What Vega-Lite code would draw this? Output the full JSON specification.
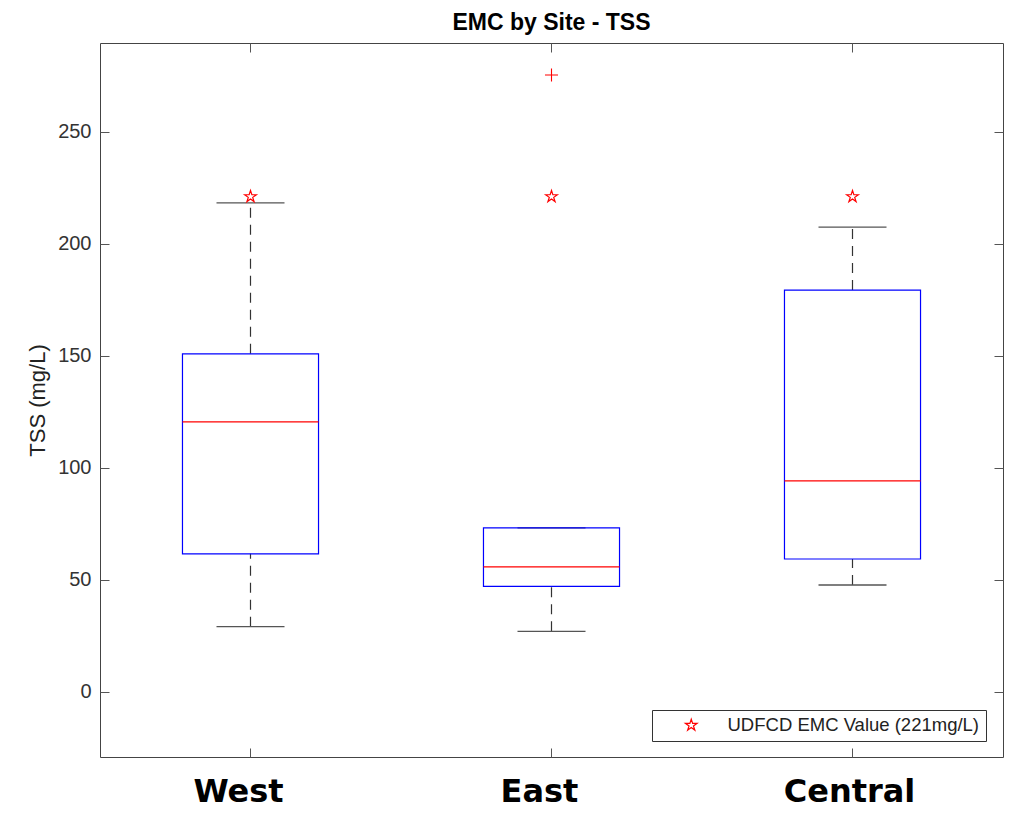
{
  "$schema": "https://vega.github.io/schema/vega-lite/v6.json",
  "width": 903,
  "height": 714,
  "autosize": "none",
  "padding": {"left": 100, "top": 43, "right": 6, "bottom": 62},
  "background": "white",
  "title": {"text": "EMC by Site - TSS", "font": "Liberation Sans", "fontSize": 23, "fontWeight": "bold", "color": "black", "offset": 8},
  "config": {
    "view": {"stroke": "#444", "strokeWidth": 1},
    "axis": {"domain": false, "grid": false, "tickColor": "#555", "tickWidth": 1, "labelFont": "Liberation Sans", "labelColor": "#333", "titleFont": "Liberation Sans", "titleFontWeight": "normal", "titleColor": "#222"}
  },
  "datasets": {
    "boxes": [
      {"site": "West", "min": 29.0, "q1": 61.5, "med": 120.4, "q3": 150.8, "max": 218.2},
      {"site": "East", "min": 26.9, "q1": 47.0, "med": 55.7, "q3": 73.1, "max": 73.1},
      {"site": "Central", "min": 47.6, "q1": 59.2, "med": 94.1, "q3": 179.3, "max": 207.4}
    ],
    "outliers": [
      {"site": "East", "value": 275.3}
    ],
    "ref": [
      {"site": "West", "value": 221, "series": "UDFCD EMC Value (221mg/L)"},
      {"site": "East", "value": 221, "series": "UDFCD EMC Value (221mg/L)"},
      {"site": "Central", "value": 221, "series": "UDFCD EMC Value (221mg/L)"}
    ]
  },
  "layer": [
    {
      "data": {"name": "boxes"},
      "mark": {"type": "rule", "color": "#333", "strokeWidth": 1.2, "strokeDash": [10, 7]},
      "encoding": {
        "x": {"field": "site", "type": "nominal", "sort": ["West", "East", "Central"],
              "scale": {"type": "band", "paddingInner": 0.548, "paddingOuter": 0.274},
              "axis": {"orient": "bottom", "title": null, "labelAngle": 0, "tickSize": -9, "labelPadding": 28,
                       "labelOffset": {"condition": {"test": "datum.value === 'Central'", "value": -3}, "value": -12},
                       "labelFont": "DejaVu Sans", "labelFontSize": 32, "labelFontWeight": "bold", "labelColor": "black"}},
        "y": {"field": "q3", "type": "quantitative",
              "scale": {"domain": [-29.2, 289.6], "nice": false, "zero": false},
              "axis": {"orient": "left", "title": "TSS (mg/L)", "values": [0, 50, 100, 150, 200, 250], "tickSize": -9,
                       "labelPadding": 18, "labelFontSize": 20, "titleFontSize": 22, "titlePadding": 8}},
        "y2": {"field": "max"}
      }
    },
    {
      "data": {"name": "boxes"},
      "mark": {"type": "rule", "color": "#333", "strokeWidth": 1.2, "strokeDash": [10, 7]},
      "encoding": {
        "x": {"field": "site", "type": "nominal", "sort": ["West", "East", "Central"],
              "axis": {"orient": "top", "title": null, "labels": false, "tickSize": -9}},
        "y": {"field": "min", "type": "quantitative",
              "axis": {"orient": "right", "title": null, "labels": false, "values": [0, 50, 100, 150, 200, 250], "tickSize": -9}},
        "y2": {"field": "q1"}
      }
    },
    {
      "data": {"name": "boxes"},
      "mark": {"type": "tick", "color": "#555", "thickness": 1.3, "size": 68, "opacity": 1},
      "encoding": {
        "x": {"field": "site", "type": "nominal", "sort": ["West", "East", "Central"], "axis": null},
        "y": {"field": "max", "type": "quantitative", "axis": null}
      }
    },
    {
      "data": {"name": "boxes"},
      "mark": {"type": "tick", "color": "#555", "thickness": 1.3, "size": 68, "opacity": 1},
      "encoding": {
        "x": {"field": "site", "type": "nominal", "sort": ["West", "East", "Central"], "axis": null},
        "y": {"field": "min", "type": "quantitative", "axis": null}
      }
    },
    {
      "data": {"name": "boxes"},
      "mark": {"type": "bar", "fill": null, "fillOpacity": 0, "stroke": "#0000ff", "strokeWidth": 1.2},
      "encoding": {
        "x": {"field": "site", "type": "nominal", "sort": ["West", "East", "Central"], "axis": null},
        "y": {"field": "q1", "type": "quantitative", "axis": null},
        "y2": {"field": "q3"}
      }
    },
    {
      "data": {"name": "boxes"},
      "mark": {"type": "tick", "color": "#ff0000", "thickness": 1.2, "size": 136, "opacity": 1},
      "encoding": {
        "x": {"field": "site", "type": "nominal", "sort": ["West", "East", "Central"], "axis": null},
        "y": {"field": "med", "type": "quantitative", "axis": null}
      }
    },
    {
      "data": {"name": "outliers"},
      "mark": {"type": "point", "shape": "M-1,0H1M0,-1V1", "filled": false, "stroke": "#ff0000", "strokeWidth": 1.1, "size": 170, "opacity": 1},
      "encoding": {
        "x": {"field": "site", "type": "nominal", "sort": ["West", "East", "Central"], "axis": null},
        "y": {"field": "value", "type": "quantitative", "axis": null}
      }
    },
    {
      "data": {"name": "ref"},
      "mark": {"type": "point", "shape": "M0,-1L0.223,-0.307L0.951,-0.309L0.361,0.117L0.588,0.809L0,0.38L-0.588,0.809L-0.361,0.117L-0.951,-0.309L-0.223,-0.307Z", "filled": false, "strokeWidth": 1.2, "size": 150, "opacity": 1},
      "encoding": {
        "x": {"field": "site", "type": "nominal", "sort": ["West", "East", "Central"], "axis": null},
        "y": {"field": "value", "type": "quantitative", "axis": null},
        "stroke": {"field": "series", "type": "nominal", "scale": {"range": ["#ff0000"]},
                   "legend": {"title": null, "orient": "none", "legendX": 552, "legendY": 667,
                              "strokeColor": "#333", "fillColor": "white", "padding": 6,
                              "labelFont": "Liberation Sans", "labelFontSize": 18.5, "labelColor": "#222", "labelLimit": 500,
                              "symbolType": "M0,-1L0.223,-0.307L0.951,-0.309L0.361,0.117L0.588,0.809L0,0.38L-0.588,0.809L-0.361,0.117L-0.951,-0.309L-0.223,-0.307Z",
                              "symbolSize": 150, "symbolStrokeWidth": 1.2, "symbolFillColor": "transparent",
                              "symbolOffset": 24, "labelOffset": 27}}
      }
    }
  ],
  "resolve": {"axis": {"x": "independent", "y": "independent"}}
}
